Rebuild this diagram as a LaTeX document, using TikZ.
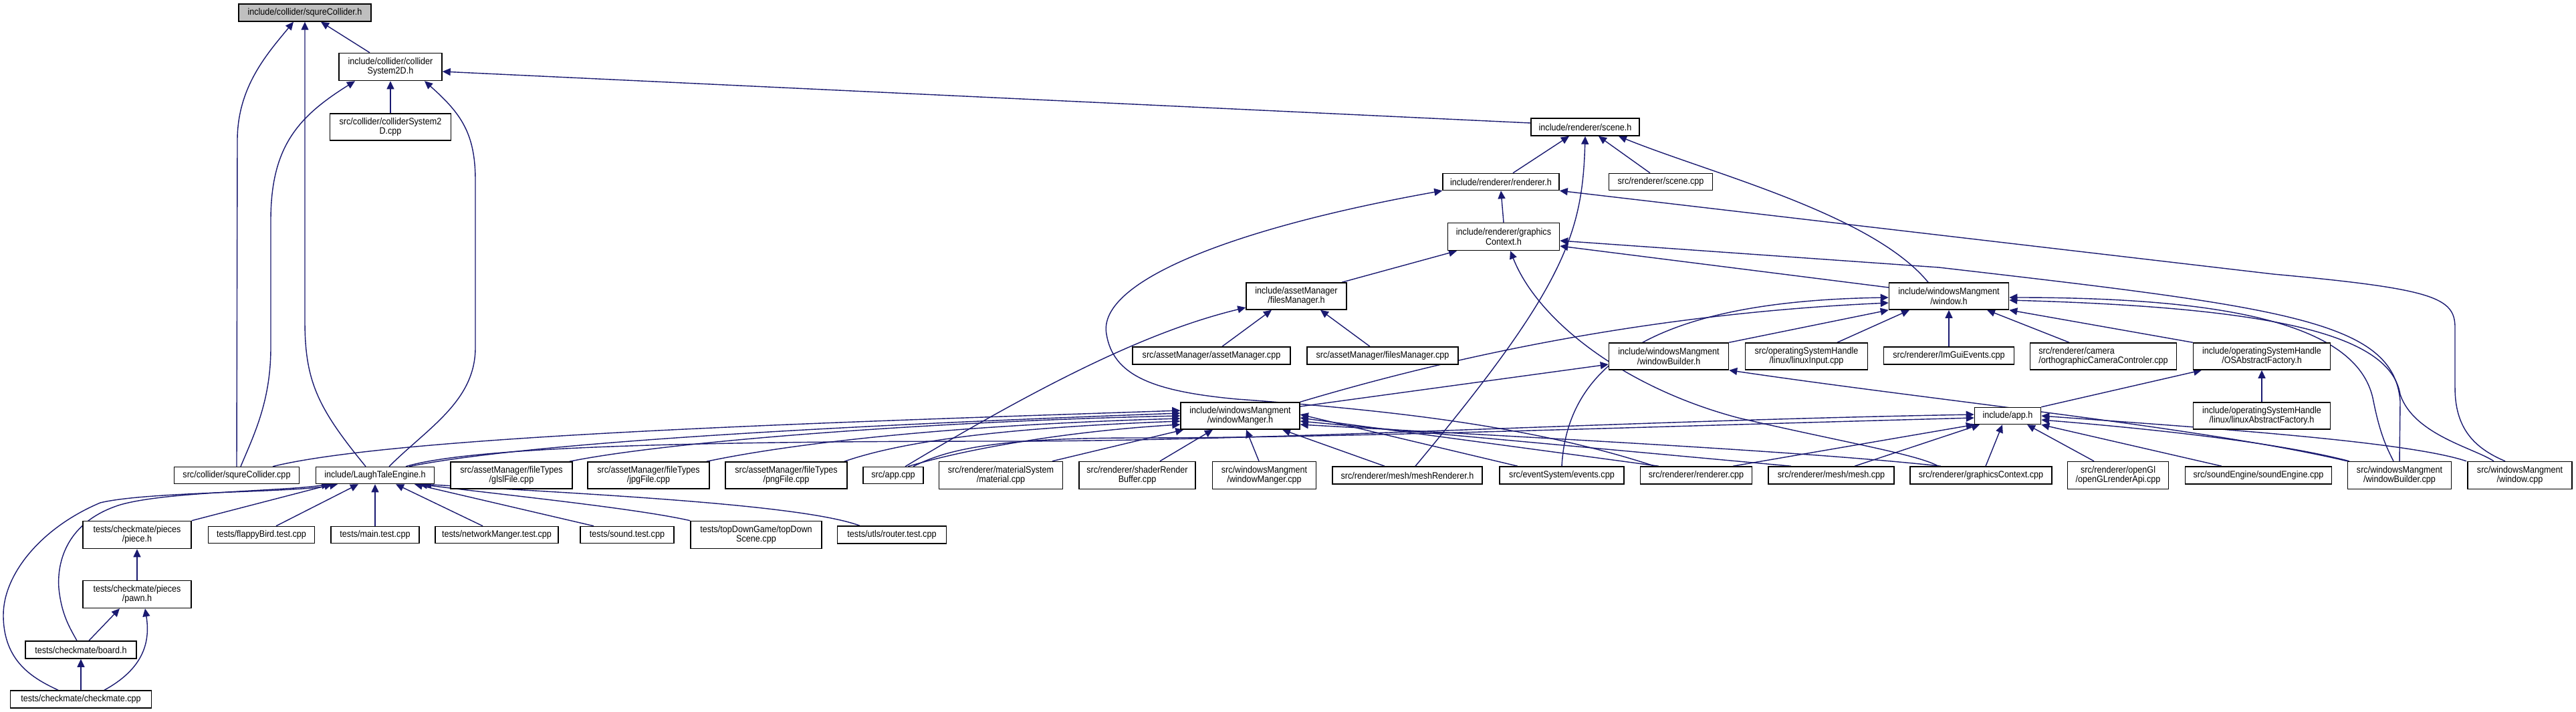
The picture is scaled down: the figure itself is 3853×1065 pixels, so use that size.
\documentclass[tikz,border=0pt]{standalone}
\usepackage{fontspec}
\setmainfont{Liberation Sans}[FakeStretch=0.9]
\usetikzlibrary{arrows.meta}
\definecolor{edgec}{HTML}{191970}
\definecolor{rootfill}{HTML}{BFBFBF}
\pgfdeclarelayer{bg}
\pgfdeclarelayer{paper}
\pgfsetlayers{paper,bg,main}
\newcommand\bx[6][]{\node[box,minimum width=#5pt,minimum height=#6pt,#1] (#2) at (#3) {#4};}
\begin{document}
\begin{tikzpicture}[x=1pt,y=-1pt,
  box/.style={draw=black,line width=1.5pt,fill=white,inner sep=1pt,align=center,font=\fontsize{14pt}{14.5pt}\selectfont},
  e/.style={draw=edgec,line width=1.4pt,{Triangle[length=12pt,width=11pt]}-}]
\begin{pgfonlayer}{paper}
\fill[white] (0,0) rectangle (3853,1065);
\end{pgfonlayer}
\useasboundingbox (0,0) rectangle (3853,1065);
% nodes
\bx[fill=rootfill]{sqh}{456,19}{include/collider/squreCollider.h}{198}{26}
\bx{cs2h}{584,100}{include/collider/collider\\System2D.h}{154}{41}
\bx{cs2cpp}{584,190}{src/collider/colliderSystem2\\D.cpp}{181}{40}
\bx{scene}{2371,190}{include/renderer/scene.h}{162}{26}
\bx{rend}{2245,272}{include/renderer/renderer.h}{174}{25}
\bx{scenecpp}{2484,272}{src/renderer/scene.cpp}{155}{25}
\bx{gch}{2249,354}{include/renderer/graphics\\Context.h}{167}{41}
\bx{fmh}{1939,443}{include/assetManager\\/filesManager.h}{150}{40}
\bx{win}{2915,443}{include/windowsMangment\\/window.h}{179}{40}
\bx{amcpp}{1812,532}{src/assetManager/assetManager.cpp}{236}{26}
\bx{fmcpp}{2068,532}{src/assetManager/filesManager.cpp}{226}{26}
\bx{wbh}{2496,533}{include/windowsMangment\\/windowBuilder.h}{179}{40}
\bx{lin}{2702,533}{src/operatingSystemHandle\\/linux/linuxInput.cpp}{183}{40}
\bx{imgui}{2915,532}{src/renderer/ImGuiEvents.cpp}{195}{26}
\bx[align=left]{ortho}{3146,533}{src/renderer/camera\\/orthographicCameraControler.cpp}{219}{40}
\bx{osaf}{3383,533}{include/operatingSystemHandle\\/OSAbstractFactory.h}{205}{40}
\bx{wmh}{1855,622}{include/windowsMangment\\/windowManger.h}{178}{40}
\bx{app}{3003,622}{include/app.h}{99}{25}
\bx{linaf}{3383,622}{include/operatingSystemHandle\\/linux/linuxAbstractFactory.h}{205}{40}
\bx{sqcpp}{354,711}{src/collider/squreCollider.cpp}{187}{25}
\bx{lte}{561,711}{include/LaughTaleEngine.h}{177}{25}
\bx{glsl}{765,711}{src/assetManager/fileTypes\\/glslFile.cpp}{182}{40}
\bx{jpg}{970,711}{src/assetManager/fileTypes\\/jpgFile.cpp}{182}{40}
\bx{png}{1176,711}{src/assetManager/fileTypes\\/pngFile.cpp}{182}{40}
\bx{appcpp}{1336,711}{src/app.cpp}{90}{25}
\bx{mat}{1497,711}{src/renderer/materialSystem\\/material.cpp}{185}{41}
\bx{shader}{1701,711}{src/renderer/shaderRender\\Buffer.cpp}{174}{41}
\bx{wmcpp}{1891,711}{src/windowsMangment\\/windowManger.cpp}{155}{41}
\bx{meshr}{2105,711}{src/renderer/mesh/meshRenderer.h}{224}{26}
\bx{events}{2336,711}{src/eventSystem/events.cpp}{186}{26}
\bx{rendcpp}{2537,711}{src/renderer/renderer.cpp}{167}{26}
\bx{meshcpp}{2739,711}{src/renderer/mesh/mesh.cpp}{188}{26}
\bx{gccpp}{2963,711}{src/renderer/graphicsContext.cpp}{212}{26}
\bx{ogl}{3168,711}{src/renderer/openGl\\/openGLrenderApi.cpp}{151}{41}
\bx{sound}{3378,711}{src/soundEngine/soundEngine.cpp}{219}{26}
\bx{wbcpp}{3589,711}{src/windowsMangment\\/windowBuilder.cpp}{155}{41}
\bx{wincpp}{3769,711}{src/windowsMangment\\/window.cpp}{156}{41}
\bx{piece}{205,800}{tests/checkmate/pieces\\/piece.h}{162}{41}
\bx{flappy}{391,800}{tests/flappyBird.test.cpp}{159}{25}
\bx{main}{561,800}{tests/main.test.cpp}{132}{25}
\bx{net}{743,800}{tests/networkManger.test.cpp}{184}{25}
\bx{soundt}{938,800}{tests/sound.test.cpp}{140}{25}
\bx{topdown}{1131,800}{tests/topDownGame/topDown\\Scene.cpp}{196}{41}
\bx{router}{1334,800}{tests/utls/router.test.cpp}{163}{26}
\bx{pawn}{205,889}{tests/checkmate/pieces\\/pawn.h}{162}{41}
\bx{board}{121,972}{tests/checkmate/board.h}{166}{26}
\bx{check}{121,1046}{tests/checkmate/checkmate.cpp}{211}{26}
\begin{pgfonlayer}{bg}
% collider
\draw[e] ([xshift=24pt]sqh.south) -- ([xshift=-31pt]cs2h.north);
\draw[e] ([xshift=-17pt]sqh.south) .. controls (400,80) and (355,130) .. (355,210) -- (sqcpp.north);
\draw[e] (sqh.south) -- (456,480) .. controls (456,570) and (475,610) .. ([xshift=-14pt]lte.north);
\draw[e] ([xshift=-53pt]cs2h.south) .. controls (445,175) and (405,220) .. (405,330) -- (405,520) .. controls (405,600) and (380,650) .. ([xshift=6pt]sqcpp.north);
\draw[e] (cs2h.south) -- (cs2cpp.north);
\draw[e] ([xshift=51pt]cs2h.south) .. controls (690,170) and (711,200) .. (711,270) -- (711,520) .. controls (711,600) and (640,640) .. ([xshift=21pt]lte.north);
\draw[e] ([yshift=-7pt]cs2h.east) -- ([yshift=6pt]scene.west);
% scene
\draw[e] ([xshift=-24pt]scene.south) -- ([xshift=18pt]rend.north);
\draw[e] ([xshift=20pt]scene.south) -- ([xshift=-16pt]scenecpp.north);
\draw[e] ([xshift=50pt]scene.south) .. controls (2560,260) and (2800,320) .. ([xshift=-31pt]win.north);
\draw[e] (scene.south) .. controls (2367,350) and (2340,430) .. ([xshift=12pt]meshr.north);
% renderer
\draw[e] (rend.south) -- (gch.north);
\draw[e] (rend.south west) .. controls (1850,340) and (1640,420) .. (1655,500) .. controls (1665,560) and (1720,585) .. (1850,597) .. controls (2100,615) and (2300,640) .. ([xshift=-62pt]rendcpp.north);
\draw[e] (rend.south east) -- (3400,410) .. controls (3640,432) and (3672,445) .. (3672,490) -- (3672,580) .. controls (3672,640) and (3700,670) .. ([xshift=-22pt]wincpp.north);
% graphicsContext
\draw[e] ([xshift=-70pt]gch.south) -- ([xshift=68pt]fmh.north);
\draw[e] ([yshift=-14pt]gch.east) -- ([yshift=13pt]win.west);
\draw[e] ([yshift=-6pt]gch.east) -- (2900,400) .. controls (3420,460) and (3580,480) .. (3590,600) -- (wbcpp.north);
\draw[e] ([xshift=10pt]gch.south) .. controls (2300,480) and (2430,580) .. (2600,625) .. controls (2750,660) and (2870,680) .. ([xshift=-64pt]gccpp.north);
% filesManager
\draw[e] ([xshift=-37pt]fmh.south) -- ([xshift=16pt]amcpp.north);
\draw[e] ([xshift=36pt]fmh.south) -- ([xshift=-19pt]fmcpp.north);
\draw[e] ([yshift=-17pt]fmh.west) .. controls (1740,490) and (1600,550) .. ([xshift=18pt]appcpp.north);
% window
\draw[e] (win.south west) -- (wbh.north east);
\draw[e] ([xshift=-59pt]win.south) -- ([xshift=46pt]lin.north);
\draw[e] (win.south) -- (imgui.north);
\draw[e] ([xshift=57pt]win.south) -- ([xshift=-51pt]ortho.north);
\draw[e] (win.south east) -- (osaf.north west);
\draw[e] ([yshift=-2pt]win.west) .. controls (2500,450) and (2345,530) .. (events.north);
\draw[e] ([yshift=-10pt]win.west) .. controls (2450,470) and (2150,540) .. (wmh.north east);
\draw[e] ([yshift=-2pt]win.east) .. controls (3350,445) and (3530,490) .. (3550,600) .. controls (3560,650) and (3570,670) .. ([xshift=-9pt]wbcpp.north);
\draw[e] ([yshift=-6pt]win.east) .. controls (3400,460) and (3575,500) .. (3590,590) .. controls (3610,650) and (3700,670) .. ([xshift=-39pt]wincpp.north);
% windowBuilder.h
\draw[e] ([yshift=-12pt]wbh.west) -- ([yshift=14pt]wmh.east);
\draw[e] (wbh.south east) .. controls (2900,600) and (3300,640) .. (wbcpp.north west);
% OS
\draw[e] (osaf.south) -- (linaf.north);
\draw[e] ([xshift=-90pt]osaf.south) -- (app.north east);
% windowManger.h incoming
\draw[e] ([yshift=8pt]wmh.west) .. controls (1300,630) and (600,650) .. ([xshift=54pt]sqcpp.north);
\draw[e] ([yshift=4pt]wmh.west) .. controls (1300,635) and (800,660) .. ([xshift=51pt]lte.north);
\draw[e] (wmh.west) .. controls (1400,630) and (1000,660) .. ([xshift=-5pt]glsl.north east);
\draw[e] ([yshift=-4pt]wmh.west) .. controls (1450,635) and (1200,660) .. ([xshift=-5pt]jpg.north east);
\draw[e] ([yshift=-8pt]wmh.west) .. controls (1500,640) and (1350,660) .. ([xshift=-5pt]png.north east);
\draw[e] ([yshift=-13pt]wmh.west) .. controls (1600,645) and (1450,670) .. ([xshift=22pt]appcpp.north);
\draw[e] ([xshift=5pt]wmh.south west) -- ([xshift=77pt]mat.north);
\draw[e] ([xshift=-41pt]wmh.south) -- ([xshift=34pt]shader.north);
\draw[e] ([xshift=9pt]wmh.south) -- ([xshift=-8pt]wmcpp.north);
\draw[e] ([xshift=63pt]wmh.south) -- ([xshift=-34pt]meshr.north);
\draw[e] ([yshift=2pt]wmh.east) -- ([xshift=-66pt]events.north);
\draw[e] ([yshift=-3pt]wmh.east) -- ([xshift=-56pt]rendcpp.north);
\draw[e] ([yshift=-8pt]wmh.east) -- ([xshift=-60pt]meshcpp.north);
\draw[e] ([yshift=-13pt]wmh.east) .. controls (2300,655) and (2700,675) .. ([xshift=-60pt]gccpp.north);
% app.h incoming
\draw[e] ([yshift=2pt]app.west) .. controls (2400,630) and (1900,660) .. (1500,660) .. controls (1000,660) and (700,670) .. ([xshift=46pt]lte.north);
\draw[e] ([yshift=-3pt]app.west) .. controls (2400,640) and (2000,655) .. (1700,655) .. controls (1500,655) and (1420,670) .. ([xshift=30pt]appcpp.north);
\draw[e] (app.south west) -- ([xshift=55pt]rendcpp.north);
\draw[e] ([xshift=-42pt]app.south) -- ([xshift=35pt]meshcpp.north);
\draw[e] ([xshift=-8pt]app.south) -- ([xshift=7pt]gccpp.north);
\draw[e] ([xshift=29pt]app.south) -- ([xshift=-36pt]ogl.north);
\draw[e] (app.south east) -- ([xshift=-55pt]sound.north);
\draw[e] ([yshift=-6pt]app.east) .. controls (3200,640) and (3400,660) .. ([xshift=3pt]wbcpp.north west);
\draw[e] (app.east) .. controls (3300,640) and (3600,660) .. ([xshift=-80pt]wincpp.north);
% LaughTaleEngine incoming
\draw[e] ([xshift=-64pt]lte.south) -- (piece.north east);
\draw[e] ([xshift=-25pt]lte.south) -- ([xshift=22pt]flappy.north);
\draw[e] (lte.south) -- (main.north);
\draw[e] ([xshift=31pt]lte.south) -- ([xshift=-21pt]net.north);
\draw[e] ([xshift=59pt]lte.south) -- ([xshift=-50pt]soundt.north);
\draw[e] ([xshift=66pt]lte.south) .. controls (750,740) and (950,760) .. (topdown.north west);
\draw[e] ([xshift=72pt]lte.south) .. controls (900,740) and (1200,755) .. ([xshift=-48pt]router.north);
\draw[e] ([xshift=-68pt]lte.south) .. controls (420,735) and (250,735) .. (180,755) .. controls (100,780) and (85,840) .. (88,880) .. controls (92,920) and (105,940) .. ([xshift=-6pt]board.north);
\draw[e] ([xshift=-56pt]lte.south) .. controls (440,737) and (220,735) .. (150,752) .. controls (60,790) and (5,860) .. (5,920) .. controls (5,990) and (50,1015) .. ([xshift=-34pt]check.north);
% checkmate
\draw[e] (piece.south) -- (pawn.north);
\draw[e] ([xshift=-26pt]pawn.south) -- ([xshift=12pt]board.north);
\draw[e] ([xshift=12pt]pawn.south) .. controls (225,960) and (215,1000) .. ([xshift=35pt]check.north);
\draw[e] (board.south) -- (check.north);
\end{pgfonlayer}
\end{tikzpicture}
\end{document}
